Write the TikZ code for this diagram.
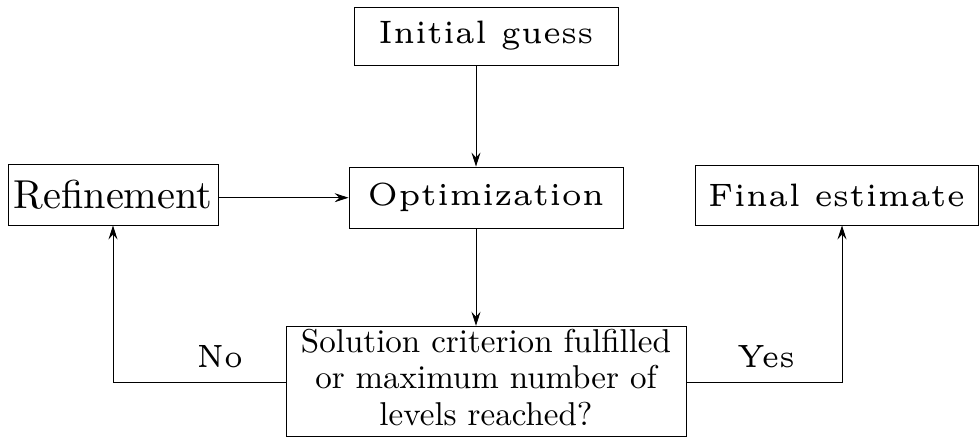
\documentclass[tikz,border=0pt]{standalone}
\usepackage{graphicx}
\usetikzlibrary{arrows.meta}
% scale a piece of text to a given width and height
\newcommand{\fitto}[3]{\resizebox{#1}{#2}{#3}}
\begin{document}
\begin{tikzpicture}[x=1pt,y=-1pt,
  box/.style={draw, line width=0.9pt, inner sep=0pt},
  flow/.style={draw, line width=0.8pt, -{Stealth[length=14pt,width=9pt,inset=5pt]}},
  wire/.style={draw, line width=0.8pt}]
\useasboundingbox (0,0) rectangle (980,437);

% process boxes
\node[box, minimum width=264pt, minimum height=58pt] (init) at (486,36)
  {\fitto{215pt}{22.5pt}{\tiny Initial guess}};
\node[box, minimum width=274pt, minimum height=61pt] (opt) at (486,197.5)
  {\fitto{237pt}{22.5pt}{\tiny Optimization}};
\node[box, minimum width=210pt, minimum height=61pt] (ref) at (113,194.5)
  {\resizebox{199pt}{!}{\normalsize Refinement}};
\node[box, minimum width=283pt, minimum height=60pt] (fin) at (836.5,195)
  {\fitto{257pt}{22.5pt}{\tiny Final estimate}};
\node[box, minimum width=400pt, minimum height=107pt] (sol) at (486,381.5)
  {\resizebox{370pt}{!}{\renewcommand{\arraystretch}{0.93}%
   \begin{tabular}{@{}c@{}}Solution criterion fulfilled\\ or maximum number of\\ levels reached?\end{tabular}}};

% branch labels
\node (no) at (220,357) {\fitto{46pt}{22pt}{\tiny No}};
\node (yes) at (766,357) {\fitto{58pt}{22pt}{\tiny Yes}};

% connectors
\draw[flow] ([xshift=-10pt]init.south) -- ([xshift=-10pt]opt.north);
\draw[flow] ([xshift=-10pt]opt.south) -- ([xshift=-10pt]sol.north);
\draw[flow] ([yshift=-3.2pt]ref.east) -- ([yshift=-3.2pt]ref.east -| opt.west);
\draw[wire] ([yshift=-1.2pt]sol.west) -- ([yshift=-1.2pt]sol.west -| ref.south);
\draw[flow] ([yshift=-1.2pt]sol.west -| ref.south) -- (ref.south);
\draw[wire] ([yshift=-1.2pt]sol.east) -- ([yshift=-1.2pt,xshift=5.5pt]sol.east -| fin.south);
\draw[flow] ([yshift=-1.2pt,xshift=5.5pt]sol.east -| fin.south) -- ([xshift=5.5pt]fin.south);
\end{tikzpicture}
\end{document}
